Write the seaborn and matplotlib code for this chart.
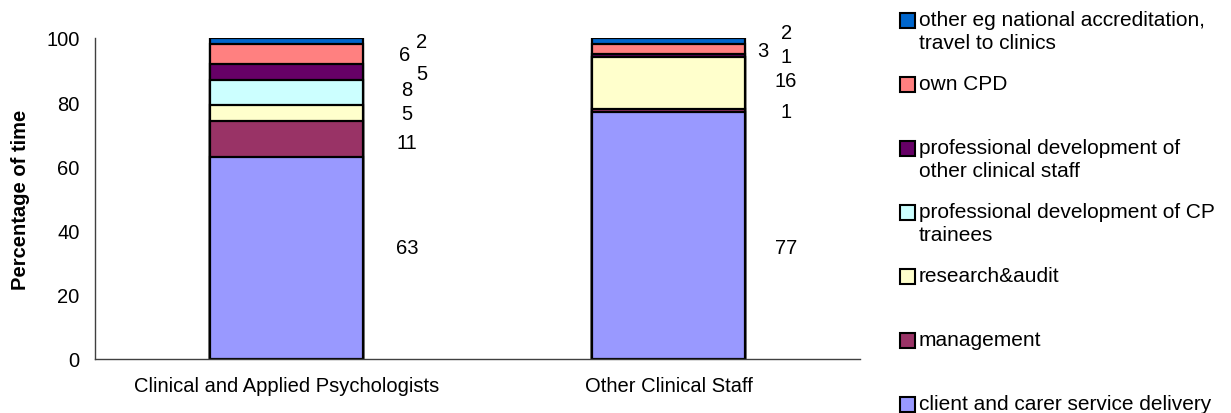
import matplotlib
matplotlib.use("Agg")
import matplotlib.pyplot as plt
from matplotlib.patches import Rectangle
import numpy as np
import pandas as pd
import seaborn as sns

# Staff groups on the x axis
groups = ["Clinical and Applied Psychologists", "Other Clinical Staff"]

# Activities, bottom of the stack first
activities = [
    "client and carer service delivery",
    "management",
    "research&audit",
    "professional development of CP\ntrainees",
    "professional development of\nother clinical staff",
    "own CPD",
    "other eg national accreditation,\ntravel to clinics",
]

# Percentage of time per activity for each group
client_delivery = [63, 77]
management = [11, 1]
research_audit = [5, 16]
cp_trainees = [8, 0]
other_staff_dev = [5, 1]
own_cpd = [6, 3]
other_activities = [2, 2]

colors = ["#9999FF", "#993366", "#FFFFCC", "#CCFFFF", "#660066", "#FF8080", "#0066CC"]

series = [client_delivery, management, research_audit, cp_trainees,
          other_staff_dev, own_cpd, other_activities]

# Value-label nudges in pixels (dx, dy) so crowded labels stay readable
label_base_dx = [121, 117]
label_nudge = {
    (0, 0): (0, 10), (0, 1): (0, -3), (0, 3): (0, 3), (0, 4): (15, -2),
    (0, 5): (-3, 0), (0, 6): (14, 0),
    (1, 0): (0, -12), (1, 1): (0, -1), (1, 2): (0, 2), (1, 4): (0, -1),
    (1, 5): (-23, -1), (1, 6): (1, 9),
}

W, H = 1231, 414
FS = 14.5

sns.set_theme(style="white")
plt.rcParams["font.family"] = ["Liberation Sans", "DejaVu Sans"]
plt.rcParams.update({"text.color": "black", "axes.labelcolor": "black",
                     "xtick.color": "black", "ytick.color": "black"})

fig = plt.figure(figsize=(W / 100, H / 100), dpi=100)
ax = fig.add_axes([95 / W, 1 - 360 / H, (860 - 95) / W, (360 - 39) / H])

values = np.array(series, dtype=float)
cum = np.cumsum(values, axis=0)

# Stacked bars: draw cumulative totals from the top segment down
for i in range(len(activities) - 1, -1, -1):
    df = pd.DataFrame({"group": groups, "total": cum[i]})
    sns.barplot(data=df, x="group", y="total", color=colors[i], width=0.4,
                edgecolor="black", linewidth=1.6, saturation=1, ax=ax, zorder=2)

# Value labels beside each segment's midpoint
for g in range(len(groups)):
    for i in range(len(activities)):
        v = values[i, g]
        if v == 0:
            continue
        mid = cum[i, g] - v / 2
        dx, dy = label_nudge.get((g, i), (0, 0))
        ax.annotate(f"{int(v)}", xy=(g, mid), xytext=(label_base_dx[g] + dx, dy),
                    textcoords="offset pixels", ha="center", va="center",
                    fontsize=FS, color="black")

ax.set_xlim(-0.5, 1.5)
ax.set_ylim(0, 100)
ax.set_yticks([0, 20, 40, 60, 80, 100])
ax.set_xticks([-0.5, 0.5, 1.5])
ax.set_xticklabels([])
ax.set_xticks([0, 1], minor=True)
ax.set_xticklabels(groups, minor=True, fontsize=FS)
ax.tick_params(axis="x", which="minor", length=0, pad=12)
ax.tick_params(axis="x", which="major", length=6, direction="out", color="#404040", width=1)
ax.tick_params(axis="y", length=6, direction="out", color="#404040", width=1, labelsize=FS, pad=5)
ax.set_xlabel("")
ax.set_ylabel("Percentage of time", fontsize=FS, fontweight="bold", labelpad=12)

for side in ["top", "right"]:
    ax.spines[side].set_visible(False)
for side in ["left", "bottom"]:
    ax.spines[side].set_color("#404040")
    ax.spines[side].set_linewidth(1)

# Legend: evenly spaced entries, top of the stack first, swatch beside the first line
legend_x, legend_top, legend_step, box = 900, 21, 64, 15
for k, i in enumerate(range(len(activities) - 1, -1, -1)):
    yc = legend_top + k * legend_step
    fig.patches.append(Rectangle((legend_x / W, 1 - (yc + box / 2) / H), box / W, box / H,
                                 transform=fig.transFigure, facecolor=colors[i],
                                 edgecolor="black", linewidth=1.5))
    fig.text((legend_x + box + 4) / W, 1 - (yc - 10) / H, activities[i], fontsize=15,
             ha="left", va="top", linespacing=1.25)

fig.savefig("out.png", dpi=100)
